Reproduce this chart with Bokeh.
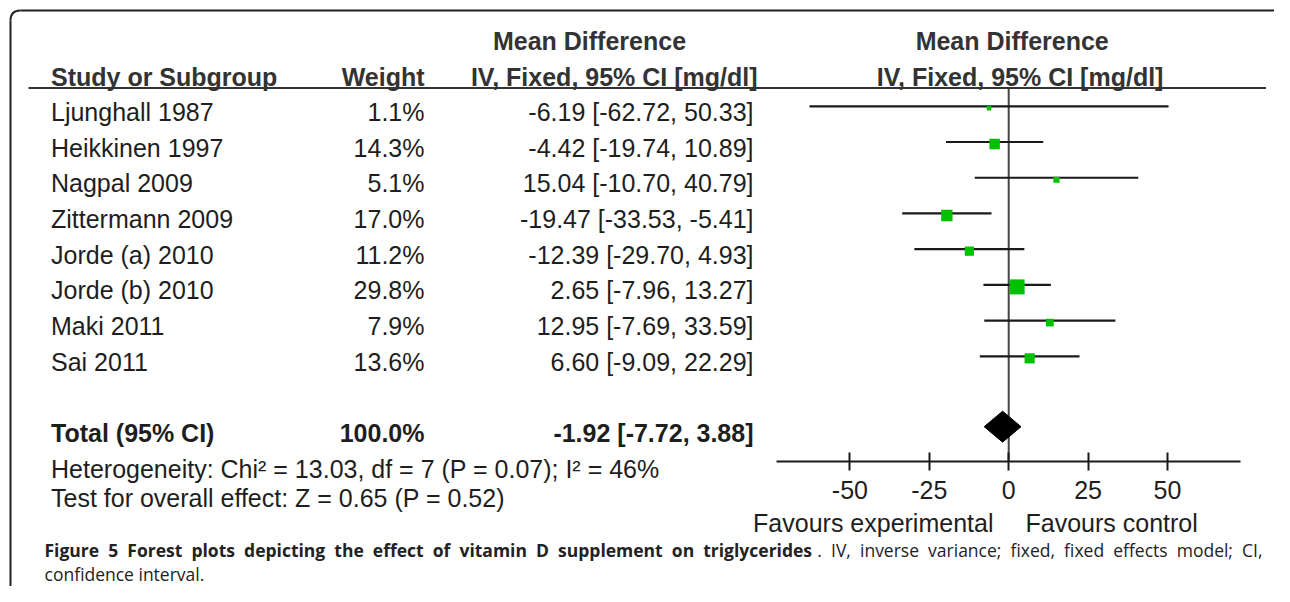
import math
from bokeh.plotting import figure
from bokeh.models import Range1d, LinearAxis, FixedTicker, ColumnDataSource
from bokeh.core.properties import value
from bokeh.embed import file_html
from bokeh.resources import INLINE

# ---------------- data ----------------
studies = ["Ljunghall 1987", "Heikkinen 1997", "Nagpal 2009", "Zittermann 2009",
           "Jorde (a) 2010", "Jorde (b) 2010", "Maki 2011", "Sai 2011"]
weights = [1.1, 14.3, 5.1, 17.0, 11.2, 29.8, 7.9, 13.6]
mean_diff = [-6.19, -4.42, 15.04, -19.47, -12.39, 2.65, 12.95, 6.60]
ci_low = [-62.72, -19.74, -10.70, -33.53, -29.70, -7.96, -7.69, -9.09]
ci_high = [50.33, 10.89, 40.79, -5.41, 4.93, 13.27, 33.59, 22.29]
total_label = "Total (95% CI)"
total_weight = 100.0
total_md = -1.92
total_low = -7.72
total_high = 3.88
heterogeneity = "Heterogeneity: Chi\u00b2 = 13.03, df = 7 (P = 0.07); I\u00b2 = 46%"
overall_effect = "Test for overall effect: Z = 0.65 (P = 0.52)"
col_study = "Study or Subgroup"
col_weight = "Weight"
col_md1 = "Mean Difference"
col_md2 = "IV, Fixed, 95% CI [mg/dl]"
ticks = [-50, -25, 0, 25, 50]
tick_labels = ["-50", "-25", "0", "25", "50"]
favours_left = "Favours experimental"
favours_right = "Favours control"
caption_bold = "Figure 5 Forest plots depicting the effect of vitamin D supplement on triglycerides"
caption_rest = ". IV, inverse variance; fixed, fixed effects model; CI,"
caption_line2 = "confidence interval."

# ---------------- geometry ----------------
W, H = 1274, 586
FS_PX = 25.0
CAP_PX = 17.5


def X(sx):
    return sx


def Y(sy):
    return H - sy


def TY(baseline, fs=FS_PX):
    # place text so that its alphabetic baseline lands at screen y = baseline
    return H - (baseline - 0.36 * fs)


ZERO_PX = 1008.2
PX_PER_UNIT = 3.176
md_start = -ZERO_PX / PX_PER_UNIT
md_end = (W - ZERO_PX) / PX_PER_UNIT

FONT = value("Liberation Sans")
FS = value(f"{FS_PX:g}px")
TXT = "#1e1e1e"
HDR = "#333333"
GREEN = "#00c000"

p = figure(width=W, height=H, x_range=Range1d(0, W), y_range=Range1d(0, H),
           x_axis_type=None, y_axis_type=None, toolbar_location=None,
           output_backend="svg", min_border=0, outline_line_color=None,
           background_fill_color="white", border_fill_color="white")
p.extra_x_ranges = {"md": Range1d(md_start, md_end)}
p.grid.visible = False

# rounded box border
p.line(x=[X(20), X(1300)], y=[Y(10), Y(10)], line_color="#222222", line_width=2)
p.line(x=[X(10), X(10)], y=[Y(20), Y(700)], line_color="#222222", line_width=2)
p.quadratic(x0=[X(10)], y0=[Y(20)], x1=[X(20)], y1=[Y(10)], cx=[X(10)], cy=[Y(10)],
            line_color="#222222", line_width=2)

# header
hb = TY(85)
p.text(x=[X(50.5)], y=[hb], text=[col_study], text_font=FONT, text_font_size=FS,
       text_font_style="bold", text_color=HDR, text_baseline="alphabetic", text_align="left")
p.text(x=[X(424)], y=[hb], text=[col_weight], text_font=FONT, text_font_size=FS,
       text_font_style="bold", text_color=HDR, text_baseline="alphabetic", text_align="right")
p.text(x=[X(589), X(1011.7)], y=[TY(49.3)] * 2, text=[col_md1] * 2, text_font=FONT,
       text_font_size=FS, text_font_style="bold", text_color=HDR,
       text_baseline="alphabetic", text_align="center")
p.text(x=[X(613.7), X(1019.6)], y=[hb] * 2, text=[col_md2] * 2, text_font=FONT,
       text_font_size=FS, text_font_style="bold", text_color=HDR,
       text_baseline="alphabetic", text_align="center")
p.line(x=[X(28), X(1265.5)], y=[Y(87.5), Y(87.5)], line_color="#333333", line_width=2)

# rows
n = len(studies)
STEP = 35.72
baselines = [120.3 + i * STEP for i in range(n)]
src = ColumnDataSource(dict(
    study=studies,
    wtxt=[f"{w:.1f}%" for w in weights],
    citxt=[f"{m:.2f} [{l:.2f}, {h:.2f}]" for m, l, h in zip(mean_diff, ci_low, ci_high)],
    ty=[TY(b) for b in baselines],
    line_y=[Y(b - 14.5) for b in baselines],
    sq_y=[Y(b - 12.5) for b in baselines],
    md=mean_diff, lo=ci_low, hi=ci_high,
    size=[max(4.5, 2.75 * math.sqrt(w)) for w in weights],
    xs=[X(50.5)] * n, xw=[X(424)] * n, xc=[X(753)] * n,
))
common = dict(text_font=FONT, text_font_size=FS, text_color=TXT, text_baseline="alphabetic")
p.text(x="xs", y="ty", text="study", source=src, text_align="left", **common)
p.text(x="xw", y="ty", text="wtxt", source=src, text_align="right", **common)
p.text(x="xc", y="ty", text="citxt", source=src, text_align="right", **common)

# forest: zero line, CIs, squares
p.segment(x0=[0], x1=[0], y0=[Y(88.5)], y1=[Y(461)], x_range_name="md",
          line_color="#444444", line_width=2)
p.segment(x0="lo", x1="hi", y0="line_y", y1="line_y", source=src, x_range_name="md",
          line_color="#1a1a1a", line_width=2.2)
p.scatter(x="md", y="sq_y", size="size", source=src, marker="square", x_range_name="md",
          fill_color=GREEN, line_color=None)

# total row
tb = 120.3 + 9 * STEP
p.text(x=[X(50.5)], y=[TY(tb)], text=[total_label], text_align="left",
       text_font_style="bold", **common)
p.text(x=[X(424)], y=[TY(tb)], text=[f"{total_weight:.1f}%"], text_align="right",
       text_font_style="bold", **common)
p.text(x=[X(753)], y=[TY(tb)], text=[f"{total_md:.2f} [{total_low:.2f}, {total_high:.2f}]"],
       text_align="right", text_font_style="bold", **common)
dy = Y(tb - 15.6)
p.patch(x=[total_low, total_md, total_high, total_md], y=[dy, dy + 15.5, dy, dy - 15.5],
        x_range_name="md", fill_color="black", line_color="black")

# statistics
p.text(x=[X(50.5)], y=[TY(477)], text=[heterogeneity], text_align="left", **common)
p.text(x=[X(50.5)], y=[TY(506)], text=[overall_effect], text_align="left", **common)

# axis
ax = LinearAxis(x_range_name="md", ticker=FixedTicker(ticks=ticks), bounds=(-73, 73),
                fixed_location=Y(461),
                major_label_overrides={t: s for t, s in zip(ticks, tick_labels)})
ax.axis_line_width = 2
ax.axis_line_color = "#1a1a1a"
ax.major_tick_line_width = 2
ax.major_tick_line_color = "#1a1a1a"
ax.major_tick_in = 9
ax.major_tick_out = 9
ax.minor_tick_line_color = None
ax.major_label_standoff = 10
ax.major_label_text_font = "Liberation Sans"
ax.major_label_text_font_size = f"{FS_PX:g}px"
ax.major_label_text_color = TXT
p.add_layout(ax, "below")

p.text(x=[-4.8], y=[TY(531)], text=[favours_left], x_range_name="md", text_align="right", **common)
p.text(x=[5.3], y=[TY(531)], text=[favours_right], x_range_name="md", text_align="left", **common)

# caption (justified in the original: widen the word gaps)
def widen(s):
    return s.replace(" ", "\u00a0\u00a0")


cap = dict(text_font=value("Open Sans"), text_font_size=value(f"{CAP_PX:g}px"),
           text_color="#222222", text_baseline="alphabetic")
p.text(x=[X(44)], y=[TY(556, CAP_PX)], text=[widen(caption_bold)], text_align="left",
       text_font_style="bold", **cap)
p.text(x=[X(1262)], y=[TY(556, CAP_PX)], text=[widen(caption_rest)], text_align="right", **cap)
p.text(x=[X(44)], y=[TY(580, CAP_PX)], text=[caption_line2], text_align="left", **cap)

open("out.html", "w").write(file_html(p, INLINE))
